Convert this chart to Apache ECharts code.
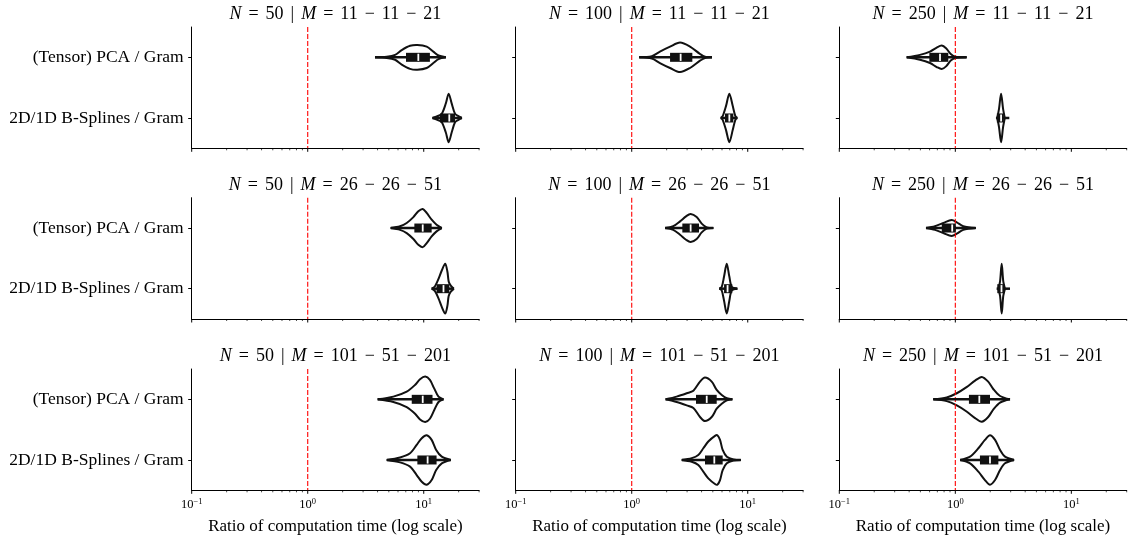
<!DOCTYPE html>
<html>
<head>
<meta charset="utf-8">
<script src="https://cdn.jsdelivr.net/npm/echarts@6/dist/echarts.min.js"></script>
<style>
  html, body { margin: 0; padding: 0; background: #fff; }
  #chart { width: 1130px; height: 540px; }
</style>
</head>
<body>
<div id="chart"></div>
<script>
// ---- data ----
const categories = ['(Tensor) PCA / Gram', '2D/1D B-Splines / Gram'];
const sampleSizes = [50, 100, 250];
const resolutions = ['11 − 11 − 21', '26 − 26 − 51', '101 − 51 − 201'];
const xTitle = 'Ratio of computation time (log scale)';
const xMin = 0.1;
const xMax = 30;
const tickValues = [0.1, 0.2, 0.3, 0.4, 0.5, 0.6, 0.7, 0.8, 0.9,
                    1, 2, 3, 4, 5, 6, 7, 8, 9, 10, 20, 30];
const referenceRatio = 1;

// [low whisker, q1, median, q3, high whisker], panels in row-major order
const pcaBoxes = [
  [3.8, 7.03, 8.98, 11.3, 15.5],
  [1.16, 2.14, 2.64, 3.33, 4.92],
  [0.381, 0.597, 0.738, 0.87, 1.25],
  [5.19, 8.3, 9.8, 11.7, 14.3],
  [1.94, 2.73, 3.22, 3.8, 5.05],
  [0.559, 0.764, 0.94, 1.01, 1.5],
  [4.01, 7.88, 9.8, 11.9, 14.8],
  [1.96, 3.58, 4.43, 5.4, 7.37],
  [0.646, 1.31, 1.61, 1.99, 2.96]
];
const splineBoxes = [
  [11.9, 13.8, 16.6, 18.6, 21.3],
  [5.85, 6.37, 6.94, 7.51, 8.13],
  [2.24, 2.28, 2.48, 2.62, 2.92],
  [11.7, 12.9, 14.8, 16.6, 18.2],
  [5.69, 6.25, 6.7, 7.36, 8.13],
  [2.27, 2.3, 2.5, 2.66, 2.96],
  [4.8, 8.81, 10.8, 12.9, 17.1],
  [2.7, 4.28, 5.15, 6.08, 8.71],
  [1.1, 1.63, 1.99, 2.35, 3.21]
];

// violin outlines: [ratio, half-width as a fraction of the category band]
const pcaProfiles = [
  [[3.8,0],[4.8,0.01],[5.66,0.04],[6.46,0.12],[7.62,0.19],[8.81,0.204],[10.6,0.176],[12.1,0.094],[13.4,0.03],[15.5,0]],
  [[1.16,0],[1.49,0.02],[1.75,0.094],[2.14,0.176],[2.61,0.243],[3.18,0.176],[3.88,0.055],[4.28,0.01],[4.92,0]],
  [[0.381,0],[0.496,0.04],[0.605,0.094],[0.691,0.16],[0.764,0.193],[0.832,0.149],[0.918,0.05],[1.0,0.01],[1.25,0]],
  [[5.19,0],[6.25,0.03],[7.13,0.083],[8.14,0.18],[8.98,0.276],[9.8,0.315],[10.6,0.248],[11.7,0.138],[12.9,0.055],[14.3,0]],
  [[1.94,0],[2.28,0.03],[2.61,0.11],[2.94,0.193],[3.22,0.232],[3.63,0.182],[4.01,0.072],[4.43,0.01],[5.05,0]],
  [[0.559,0],[0.668,0.03],[0.789,0.083],[0.93,0.132],[1.03,0.094],[1.17,0.03],[1.5,0]],
  [[4.01,0],[5.47,0.044],[7.13,0.127],[8.41,0.237],[9.29,0.331],[10.3,0.375],[11.3,0.32],[12.3,0.18],[13.4,0.044],[14.8,0]],
  [[1.96,0],[2.44,0.044],[2.98,0.1],[3.4,0.143],[3.88,0.292],[4.28,0.359],[4.89,0.292],[5.4,0.155],[5.97,0.072],[6.6,0.017],[7.37,0]],
  [[0.646,0],[0.843,0.03],[1.03,0.1],[1.25,0.2],[1.48,0.309],[1.69,0.37],[1.92,0.292],[2.13,0.166],[2.43,0.055],[2.96,0]]
];
const splineProfiles = [
  [[11.9,0],[13.1,0.03],[14.3,0.07],[15.5,0.24],[16.4,0.40],[17.4,0.24],[18.6,0.07],[19.9,0.03],[21.3,0]],
  [[5.85,0],[6.08,0.03],[6.5,0.2],[6.94,0.40],[7.42,0.2],[7.82,0.03],[8.13,0]],
  [[2.3,0],[2.38,0.15],[2.48,0.40],[2.58,0.15],[2.67,0]],
  [[11.7,0],[12.5,0.04],[13.4,0.16],[14.3,0.30],[15.3,0.41],[16.0,0.28],[16.4,0.12],[17.1,0.05],[18.2,0]],
  [[5.69,0],[5.97,0.03],[6.25,0.2],[6.59,0.41],[6.94,0.2],[7.28,0.03],[8.13,0]],
  [[2.35,0],[2.43,0.12],[2.51,0.41],[2.59,0.12],[2.68,0]],
  [[4.8,0],[6.25,0.04],[7.62,0.11],[8.69,0.248],[9.61,0.359],[10.6,0.408],[11.7,0.331],[12.8,0.166],[14.3,0.055],[17.1,0]],
  [[2.7,0],[3.29,0.03],[3.75,0.083],[4.14,0.193],[4.57,0.304],[5.22,0.397],[5.47,0.408],[5.77,0.331],[6.08,0.166],[6.6,0.055],[7.52,0.01],[8.71,0]],
  [[1.1,0],[1.34,0.055],[1.58,0.193],[1.8,0.331],[1.99,0.408],[2.2,0.331],[2.43,0.166],[2.68,0.055],[3.21,0]]
];

// ---- layout & style ----
const FONT = '"Liberation Serif", "Times New Roman", serif';
const INK = '#111';
const colLeft = [191.7, 515.7, 839.3];
const rowTop = [27, 197.7, 369];
const plotWidth = 287.4;
const plotHeight = 121.3;
const titleY = [14, 185, 356.5];

function powLabel(v) {
  const e = Math.log10(v);
  const k = Math.round(e);
  if (Math.abs(e - k) > 1e-6) return '';
  return '{b|10}{s|' + (k < 0 ? '\u2212' + (-k) : String(k)) + '}';
}

function titleText(n, res) {
  const parts = res.split(' − ').map(p => '{t|' + p + '}');
  return '{i|N}{op|=}{t|' + n + '}{op||}{i|M}{op|=}' + parts.join('{op|\u2212}');
}

const grids = [], xAxes = [], yAxes = [], series = [], graphics = [];

for (let r = 0; r < 3; r++) {
  for (let c = 0; c < 3; c++) {
    const i = r * 3 + c;
    grids.push({ left: colLeft[c], top: rowTop[r], width: plotWidth, height: plotHeight });

    xAxes.push({
      type: 'log', logBase: 10, min: xMin, max: xMax, gridIndex: i,
      axisLine: { show: true, onZero: false, lineStyle: { color: '#000', width: 1 } },
      axisTick: { show: false },
      minorTick: { show: false },
      splitLine: { show: false },
      axisLabel: {
        show: r === 2, margin: 7, formatter: powLabel,
        fontFamily: FONT, fontSize: 12, color: '#000',
        rich: {
          b: { fontFamily: FONT, fontSize: 12.5, color: '#000', lineHeight: 14 },
          s: { fontFamily: FONT, fontSize: 8.5, color: '#000', lineHeight: 8, verticalAlign: 'top' }
        }
      },
      name: r === 2 ? xTitle : '',
      nameLocation: 'middle', nameGap: 28,
      nameTextStyle: { fontFamily: FONT, fontSize: 17, color: '#000' }
    });

    yAxes.push({
      type: 'category', data: categories, inverse: true, gridIndex: i,
      axisLine: { show: true, onZero: false, lineStyle: { color: '#000', width: 1 } },
      axisTick: { show: true, length: 3.5, alignWithLabel: true, lineStyle: { color: '#000', width: 1 } },
      axisLabel: { show: c === 0, margin: 8, fontFamily: FONT, fontSize: 17.5, color: '#000' },
      splitLine: { show: false }
    });

    // violin bodies
    series.push({
      type: 'custom', xAxisIndex: i, yAxisIndex: i, z: 2, silent: true,
      data: [[pcaBoxes[i][2], 0], [splineBoxes[i][2], 1]],
      encode: { x: 0, y: 1 },
      renderItem: function (params, api) {
        const cat = api.value(1);
        const prof = (cat === 0 ? pcaProfiles : splineProfiles)[i];
        const v0 = prof[0][0];
        const cy = api.coord([v0, cat])[1];
        const band = Math.abs(api.coord([v0, 1])[1] - api.coord([v0, 0])[1]);
        const top = prof.map(p => [api.coord([p[0], cat])[0], cy - p[1] * band]);
        const bot = prof.map(p => [api.coord([p[0], cat])[0], cy + p[1] * band]);
        const st = { stroke: INK, lineWidth: 2, fill: null, lineJoin: 'round' };
        return {
          type: 'group',
          children: [
            { type: 'polyline', shape: { points: top, smooth: 0.3 }, style: st },
            { type: 'polyline', shape: { points: bot, smooth: 0.3 }, style: st }
          ]
        };
      }
    });

    // dashed reference line at ratio = 1
    series.push({
      type: 'custom', xAxisIndex: i, yAxisIndex: i, z: 3, silent: true, clip: false,
      data: [[referenceRatio, 0]],
      encode: { x: 0, y: 1 },
      renderItem: function (params, api) {
        const x = api.coord([api.value(0), 0])[0];
        const cs = params.coordSys;
        return {
          type: 'line',
          shape: { x1: x, y1: cs.y, x2: x, y2: cs.y + cs.height },
          style: { stroke: '#ff0000', lineWidth: 1.1, lineDash: [5, 2] }
        };
      }
    });

    // inner boxes
    series.push({
      type: 'custom', xAxisIndex: i, yAxisIndex: i, z: 4, silent: true,
      data: [[pcaBoxes[i][2], 0], [splineBoxes[i][2], 1]],
      encode: { x: 0, y: 1 },
      renderItem: function (params, api) {
        const cat = api.value(1);
        const b = (cat === 0 ? pcaBoxes : splineBoxes)[i];
        const px = b.map(v => api.coord([v, cat])[0]);
        const cy = api.coord([b[2], cat])[1];
        return {
          type: 'group',
          children: [
            { type: 'line', shape: { x1: px[0], y1: cy, x2: px[4], y2: cy },
              style: { stroke: INK, lineWidth: 2.5 } },
            { type: 'rect', shape: { x: px[1], y: cy - 4.5, width: px[3] - px[1], height: 9 },
              style: { fill: INK } },
            { type: 'line', shape: { x1: px[2], y1: cy - 3.6, x2: px[2], y2: cy + 3.6 },
              style: { stroke: '#fff', lineWidth: 1.8 } }
          ]
        };
      }
    });

    // log-axis ticks (major at powers of ten, minor between)
    series.push({
      type: 'custom', xAxisIndex: i, yAxisIndex: i, z: 4, silent: true, clip: false,
      data: tickValues.map(v => [v, 0]),
      encode: { x: 0, y: 1 },
      renderItem: function (params, api) {
        const v = api.value(0);
        const x = api.coord([v, 0])[0];
        const e = Math.log10(v);
        const major = Math.abs(e - Math.round(e)) < 1e-6;
        const y0 = params.coordSys.y + params.coordSys.height;
        return {
          type: 'line',
          shape: { x1: x, y1: y0, x2: x, y2: y0 + (major ? 3.5 : 2) },
          style: { stroke: '#000', lineWidth: major ? 1 : 0.7 }
        };
      }
    });

    graphics.push({
      type: 'text',
      x: colLeft[c] + plotWidth / 2,
      y: titleY[r],
      style: {
        text: titleText(sampleSizes[c], resolutions[r]),
        align: 'center', verticalAlign: 'middle',
        fontFamily: FONT, fontSize: 18, fill: '#000',
        rich: {
          i: { fontFamily: FONT, fontSize: 18, fontStyle: 'italic', fill: '#000' },
          t: { fontFamily: FONT, fontSize: 18, fill: '#000' },
          op: { fontFamily: FONT, fontSize: 18, fill: '#000', padding: [0, 7] }
        }
      }
    });
  }
}

const chart = echarts.init(document.getElementById('chart'), null, { renderer: 'canvas' });
chart.setOption({
  animation: false,
  backgroundColor: '#fff',
  grid: grids,
  xAxis: xAxes,
  yAxis: yAxes,
  series: series,
  graphic: graphics
});
</script>
</body>
</html>
